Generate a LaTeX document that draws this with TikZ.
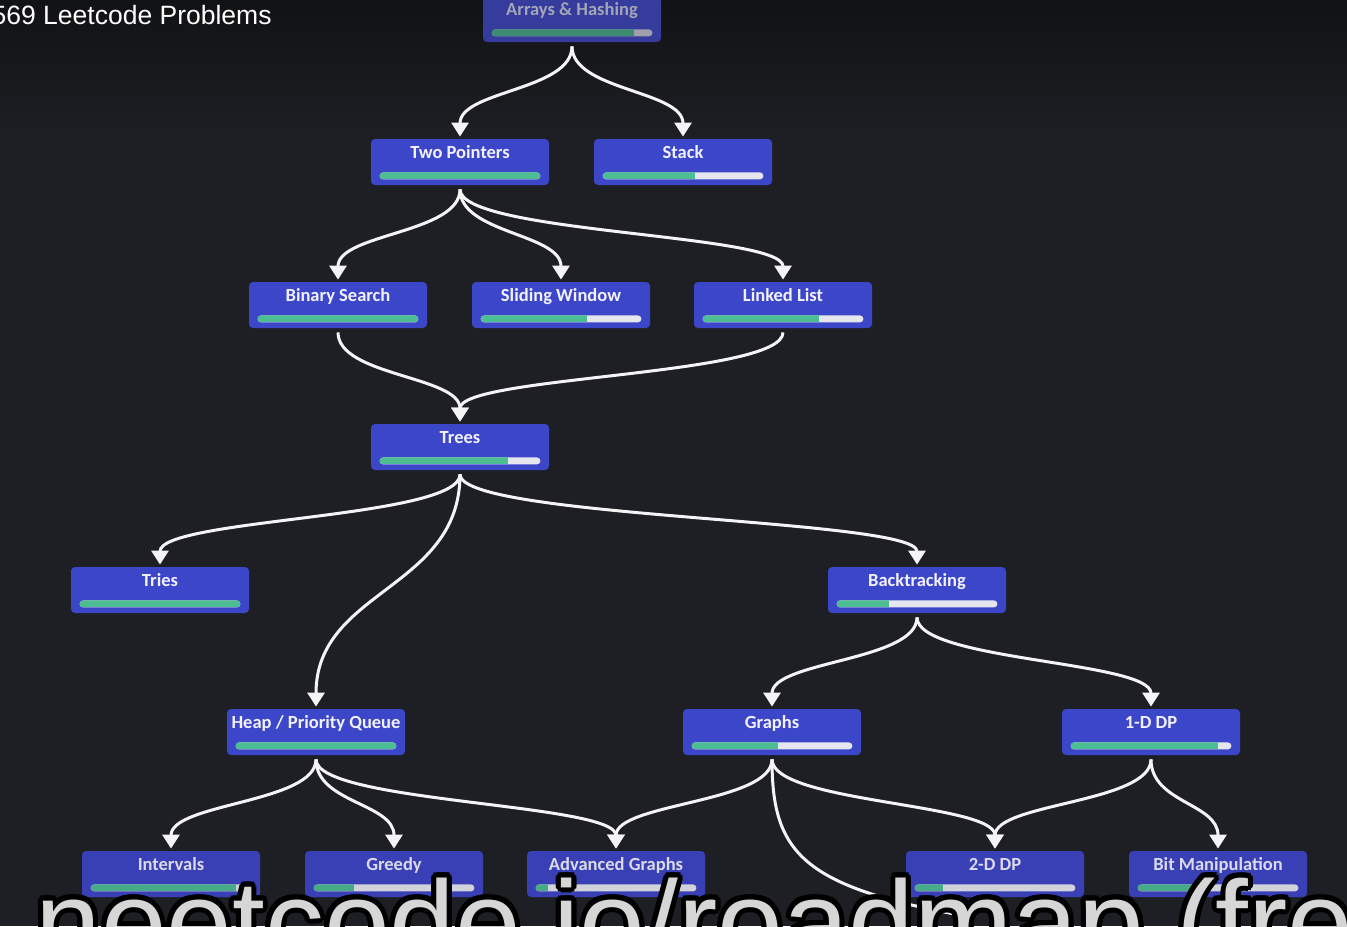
\documentclass[tikz,border=0pt]{standalone}
\usepackage{fontspec}
\setmainfont{Liberation Sans}
\newfontfamily\topicfont{Carlito}
\usetikzlibrary{positioning,calc,arrows.meta}

\definecolor{bg}{HTML}{1E1F24}
\definecolor{bgtop}{HTML}{111214}
\definecolor{edgewhite}{HTML}{F4F4F6}
\definecolor{capgray}{HTML}{D6D6D6}
% n = normal, d = dimmed top, l = low row
\definecolor{filln}{HTML}{3C46C8}
\definecolor{textn}{HTML}{F2F2FF}
\definecolor{greenn}{HTML}{4DBD94}
\definecolor{restn}{HTML}{E6E6EE}
\definecolor{filld}{HTML}{353C9C}
\definecolor{textd}{HTML}{A3A5B8}
\definecolor{greend}{HTML}{3D8C72}
\definecolor{restd}{HTML}{A0A0AC}
\definecolor{filll}{HTML}{3940B6}
\definecolor{textl}{HTML}{DADAEA}
\definecolor{greenl}{HTML}{47AA88}
\definecolor{restl}{HTML}{D2D2DA}

% outlined caption text
\newcommand\outlined[1]{%
  \foreach \a in {0,18,...,342}{%
    \pgfmathsetlengthmacro\dx{2.5pt*cos(\a)}\pgfmathsetlengthmacro\dy{2.5pt*sin(\a)}%
    \rlap{\hspace*{\dx}\raisebox{\dy}{\color{black}#1}}}%
  {\color{capgray}#1}}

\begin{document}
\begin{tikzpicture}[x=0.5pt,y=-0.5pt,
    topic/.style={draw=none, rounded corners=2pt, minimum width=89pt, minimum height=23pt,
      inner xsep=0pt, inner ysep=0pt, text height=9.5pt, text depth=13.5pt,
      font=\topicfont\bfseries\fontsize{9.25pt}{11pt}\selectfont},
    edge/.style={draw=edgewhite, line width=1.5pt, -{Triangle[width=8.5pt,length=7pt]}, shorten >=1pt},
    captext/.style={anchor=base west, inner sep=0pt, font=\fontsize{59pt}{60pt}\selectfont}]
  \useasboundingbox (0,0) rectangle (1347,926);
  \fill[bg] (0,0) rectangle (1347,926);
  \shade[top color=bgtop, bottom color=bg] (0,0) rectangle (1347,140);

  \node[anchor=base east, inner sep=0pt, text=white, font=\fontsize{13.25pt}{15pt}\selectfont] (title) at (272,25) {569 Leetcode Problems};

  % topics: name / x / y / label / done / look
  \foreach \n/\x/\y/\t/\f/\g in {ah/572/19/{Arrays \& Hashing}/0.89/d,
      tp/460/162/{Two Pointers}/1/n, st/683/162/Stack/0.575/n,
      bs/338/305/{Binary Search}/1/n, sw/561/305/{Sliding Window}/0.665/n, ll/783/305/{Linked List}/0.73/n,
      tr/460/447/Trees/0.8/n,
      ti/160/590/Tries/1/n, bt/917/590/Backtracking/0.33/n,
      hp/316/732/{Heap / Priority Queue}/1/n, gr/772/732/Graphs/0.54/n, dp1/1151/732/{1-D DP}/0.92/n,
      iv/171/874/Intervals/0.91/l, gd/394/874/Greedy/0.25/l, ag/616/874/{Advanced Graphs}/0.08/l,
      dp2/995/874/{2-D DP}/0.18/l, bm/1218/874/{Bit Manipulation}/0.4/l}
  {
    \node[topic, fill=fill\g, text=text\g] (\n) at (\x,\y) {\t};
    \fill[rest\g, rounded corners=1.75pt] ($(\n.south west)+(9,-6)$) rectangle ($(\n.south east)+(-9,-13)$);
    \begin{scope}
      \clip[rounded corners=1.75pt] ($(\n.south west)+(9,-6)$) rectangle ($(\n.south east)+(-9,-13)$);
      \fill[green\g] ($(\n.south west)+(9,-6)$) rectangle ($(\n.south west)+(9+160*\f,-13)$);
    \end{scope}
  }

  \foreach \a/\b in {ah/tp,ah/st,tp/bs,tp/sw,tp/ll,bs/tr,ll/tr,tr/ti,tr/hp,tr/bt,bt/gr,bt/dp1,
      hp/iv,hp/gd,hp/ag,gr/ag,gr/dp2,dp1/dp2,dp1/bm}
  {
    \coordinate (mid) at ($(\a.south)!0.5!(\b.north)$);
    \draw[edge] ($(\a.south)+(0,4)$) .. controls (mid -| \a.south) and (mid -| \b.north) .. (\b.north);
  }
  % runs on below the page
  \coordinate (nextrow) at (960,915);
  \draw[edge,-] ($(gr.south)+(0,4)$) .. controls ($(gr.south)+(0,95)$) and ($(gr.south)+(28,130)$) .. (nextrow);

  \node[captext] (caption) at (35,963) {\outlined{neetcode.io/roadmap (fre}};
\end{tikzpicture}
\end{document}
